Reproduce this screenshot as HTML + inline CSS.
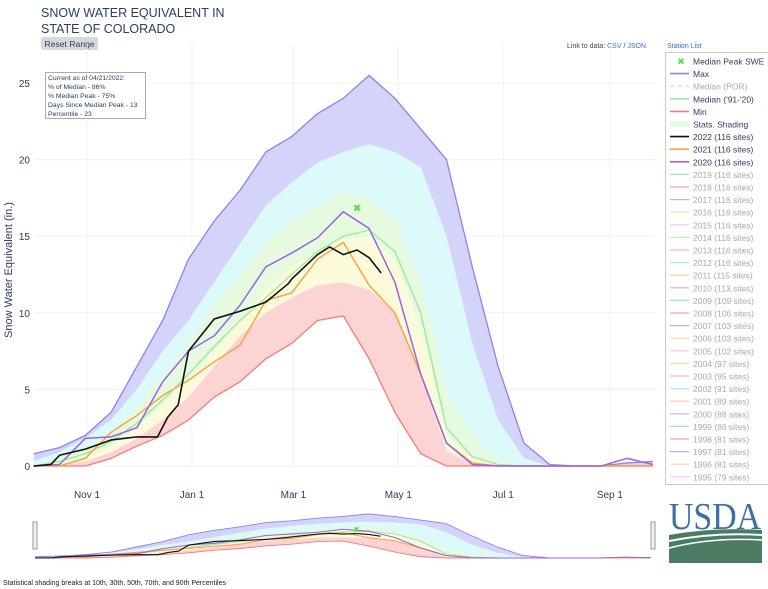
<!DOCTYPE html>
<html><head><meta charset="utf-8"><style>
body{margin:0;background:#fff;width:768px;height:589px;overflow:hidden;font-family:"Liberation Sans","DejaVu Sans",sans-serif}
svg{display:block}
</style></head><body>
<svg id="chart" width="768" height="589" xmlns="http://www.w3.org/2000/svg">
<text x="41" y="17" font-size="12.5" fill="#2a3f5f">SNOW WATER EQUIVALENT IN</text>
<text x="41" y="33" font-size="12.5" fill="#2a3f5f">STATE OF COLORADO</text>
<g><rect x="41" y="37" width="57" height="13" rx="2" fill="#d9d9d9"/><text x="44.5" y="47" font-size="8.6" fill="#2a3f5f">Reset Range</text></g>
<text x="567" y="48" font-size="7" fill="#444">Link to data: <tspan fill="#3b6fd6">CSV</tspan> / <tspan fill="#3b6fd6">JSON</tspan></text>
<text x="667" y="48" font-size="7" fill="#3b6fd6">Station List</text>
<g id="grid"></g><g id="bands"></g><g id="lines"></g><g id="axes"></g>
<g><rect x="45.5" y="72.5" width="100" height="46" fill="#fff" stroke="#aaa"/>
<text font-size="6.8" fill="#2a3f5f"><tspan x="48" y="80">Current as of 04/21/2022:</tspan><tspan x="48" y="89">% of Median - 86%</tspan><tspan x="48" y="98">% Median Peak - 75%</tspan><tspan x="48" y="107">Days Since Median Peak - 13</tspan><tspan x="48" y="116">Percentile - 23</tspan></text></g>
<text transform="translate(12,270) rotate(-90)" text-anchor="middle" font-size="11" fill="#2a3f5f">Snow Water Equivalent (in.)</text>
<g id="nav"></g>
<rect x="33" y="522" width="4" height="27" fill="#f2f2f2" stroke="#999"/>
<rect x="651" y="522" width="4" height="27" fill="#f2f2f2" stroke="#999"/>
<g id="legend"></g>
<g>
<text x="715" y="529" text-anchor="middle" font-size="38" font-family="Liberation Serif, serif" fill="#3e6fa6" textLength="92" lengthAdjust="spacingAndGlyphs">USDA</text>
<path d="M669 535 Q715 527 762 530 L762 563 L669 563 Z" fill="#4a7c63"/>
<path d="M669 541 Q715 532 762 535" stroke="#fff" stroke-width="2" fill="none"/>
<path d="M669 548 Q712 537 762 540" stroke="#fff" stroke-width="1.5" fill="none"/>
</g>
<text x="3" y="585" font-size="7" fill="#222">Statistical shading breaks at 10th, 30th, 50th, 70th, and 90th Percentiles</text>
</svg>
<script>
const days=[0,15,30,45,60,75,90,105,120,135,150,165,180,195,210,225,240,255,270,285,300,315,330,345,360];
const maxV=[0.8,1.2,2.0,3.5,6.5,9.5,13.5,16,18,20.5,21.5,23,24,25.5,24,22,20,13,6.5,1.5,0.1,0,0,0.2,0.3];
const p90=[0.3,0.9,1.8,3,5,7.5,9.5,12,14.5,17,18.5,19.8,20.5,21,20.5,19.5,15,8,3,0.5,0,0,0,0,0];
const p70=[0,0.5,1.2,2.2,3.8,5.8,8,10.5,12.5,14.5,16,17,17.8,17.5,16,12,5,2,0.5,0,0,0,0,0,0];
const medV=[0,0.3,0.8,1.6,2.8,4.3,6,7.8,9.5,11,12.5,14,15,15.4,14,10,2.5,0.6,0.1,0,0,0,0,0,0];
const p30=[0,0.1,0.5,1.3,2.5,4,5.5,7.5,9.5,11.5,13,14,14.8,15,13.5,9,2,0.4,0,0,0,0,0,0,0];
const p10=[0,0,0.3,0.9,1.8,3,4.5,6.5,8.5,10,11,11.8,12,11.5,10,6,1,0.1,0,0,0,0,0,0,0];
const minV=[0,0,0,0.5,1.3,2,3,4.5,5.5,7,8,9.5,9.8,7,3.5,0.8,0,0,0,0,0,0,0,0,0];
const y2020=[0,0.1,1.8,1.9,2.5,5.5,7.5,8.5,10.5,13,13.9,14.9,16.6,15.5,12,6,1.5,0.1,0,0,0,0,0,0.5,0.1];
const y2021=[0,0,0.5,2.2,3.3,4.6,5.6,6.8,7.9,10.8,11.3,13.5,14.6,11.8,10,6,1.5,0.2,0,0,0,0,0,0,0];
const days2022=[0,10,15,30,45,60,72,78,84,90,105,120,135,148,150,165,172,180,188,195,202];
const y2022=[0,0.1,0.7,1.1,1.7,1.9,1.9,3.2,4,7.5,9.6,10.1,10.7,11.9,12.2,13.8,14.3,13.8,14.1,13.6,12.6];
const peakDay=[188], peakVal=[16.8];
const xT=['Nov 1','Jan 1','Mar 1','May 1','Jul 1','Sep 1'], xTd=[31,92,151,212,273,335];
const yT=[0,5,10,15,20,25];
const NS='http://www.w3.org/2000/svg';
const X=d=>33.7+1.72*d, Y=v=>466-15.32*v;
const NX=d=>35+1.71*d, NY=v=>558-1.73*v;
function el(t,a,p){const e=document.createElementNS(NS,t);for(const k in a)e.setAttribute(k,a[k]);p.appendChild(e);return e;}
const g=document.getElementById('grid'),ax=document.getElementById('axes');
yT.forEach(v=>{const l=el('line',{x1:35,x2:655,y1:Y(v),y2:Y(v),stroke:'#eef0f6'},g);


const t=el('text',{x:30,y:Y(v)+4,'text-anchor':'end','font-size':10,fill:'#2a3f5f'},ax);t.textContent=v;

});
xT.forEach((s,i)=>{const l=el('line',{x1:X(xTd[i]),x2:X(xTd[i]),y1:45,y2:468,stroke:'#eef0f6'},g);


const t=el('text',{x:X(xTd[i]),y:498,'text-anchor':'middle','font-size':10,fill:'#2a3f5f'},ax);t.textContent=s;

});
function pts(ds,vs,fx,fy){return ds.map((d,i)=>fx(d)+','+fy(vs[i]));}
function band(lo,hi,col,par,fx,fy,name){const p=pts(days,hi,fx,fy).concat(pts(days,lo,fx,fy).reverse());
const e=el('polygon',{points:p.join(' '),fill:col,stroke:'none'},par);

}
function line(ds,vs,col,w,par,fx,fy,name){const e=el('polyline',{points:pts(ds,vs,fx,fy).join(' '),fill:'none',stroke:col,'stroke-width':w,'stroke-linejoin':'round'},par);

}
function draw(bp,lp,fx,fy,wf){
band(p90,maxV,'#d4d4fb',bp,fx,fy,'band-p90-max');
band(p70,p90,'#dcfafa',bp,fx,fy,'band-p70-p90');
band(p30,p70,'#e6fae0',bp,fx,fy,'band-p30-p70');
band(p10,p30,'#fbfbdc',bp,fx,fy,'band-p10-p30');
band(minV,p10,'#fdd4d4',bp,fx,fy,'band-min-p10');
line(days,maxV,'#8c82f0',1.3*wf,lp,fx,fy,'max-line');
line(days,medV,'#9ee89a',1.3*wf,lp,fx,fy,'median-line');
line(days,minV,'#f77b7b',1.3*wf,lp,fx,fy,'min-line');
line(days,y2021,'#fba443',1.5*wf,lp,fx,fy,'series-2021');
line(days,y2020,'#9a63e6',1.5*wf,lp,fx,fy,'series-2020');
line(days2022,y2022,'#111',1.6*wf,lp,fx,fy,'series-2022');
peakDay.forEach((d,i)=>{const t=el('text',{x:fx(d),y:fy(peakVal[i])+3,'text-anchor':'middle','font-size':8*wf+2,fill:'#55dd55','font-weight':'bold'},lp);t.textContent='✖';

});}
draw(document.getElementById('bands'),document.getElementById('lines'),X,Y,1);
const nav=document.getElementById('nav');draw(nav,nav,NX,NY,0.7);
const lg=document.getElementById('legend');
el('rect',{x:665.5,y:52.5,width:110,height:432,fill:'#fff',stroke:'#ccc'},lg);
const labs=['Median Peak SWE','Max','Median (POR)',"Median ('91-'20)",'Min','Stats. Shading','2022 (116 sites)','2021 (116 sites)','2020 (116 sites)'];
const cols=['#55dd55','#8c82f0','#cceecc','#9ee89a','#f77b7b','#e6fae0','#111','#fba443','#9a63e6'];
const older=['2019 (116 sites)','2018 (116 sites)','2017 (116 sites)','2016 (116 sites)','2015 (116 sites)','2014 (116 sites)','2013 (116 sites)','2012 (116 sites)','2011 (115 sites)','2010 (113 sites)','2009 (109 sites)','2008 (106 sites)','2007 (103 sites)','2006 (103 sites)','2005 (102 sites)','2004 (97 sites)','2003 (95 sites)','2002 (91 sites)','2001 (89 sites)','2000 (88 sites)','1999 (86 sites)','1998 (81 sites)','1997 (81 sites)','1996 (81 sites)','1995 (79 sites)'];
const oc=['#9ee8c8','#fba0a0','#b4b4f4','#fdd8a0','#fcc0fc','#c8eeb0','#fcb8b8','#a8ecf4','#fdc898','#c8b0f4'];
const all=labs.concat(older);
all.forEach((s,i)=>{const y=61+i*12.6;const c=i<9?cols[i]:oc[(i-9)%10];
const gi=el('g',{},lg);


if(i==0){const m=el('text',{x:681,y:y+3.5,'text-anchor':'middle','font-size':9,fill:c,'font-weight':'bold'},gi);m.textContent='✖';}
else el('line',{x1:670,x2:689,y1:y,y2:y,stroke:c,'stroke-width':i==5?5:(i<9?1.6:1.2),'stroke-dasharray':i==2?'4,4':'none'},gi);
const t=el('text',{x:693,y:y+3.5,'font-size':8.5,fill:(i==2||i>8)?'#aaa':'#2a3f5f'},gi);t.textContent=s;});
</script>
</body></html>
